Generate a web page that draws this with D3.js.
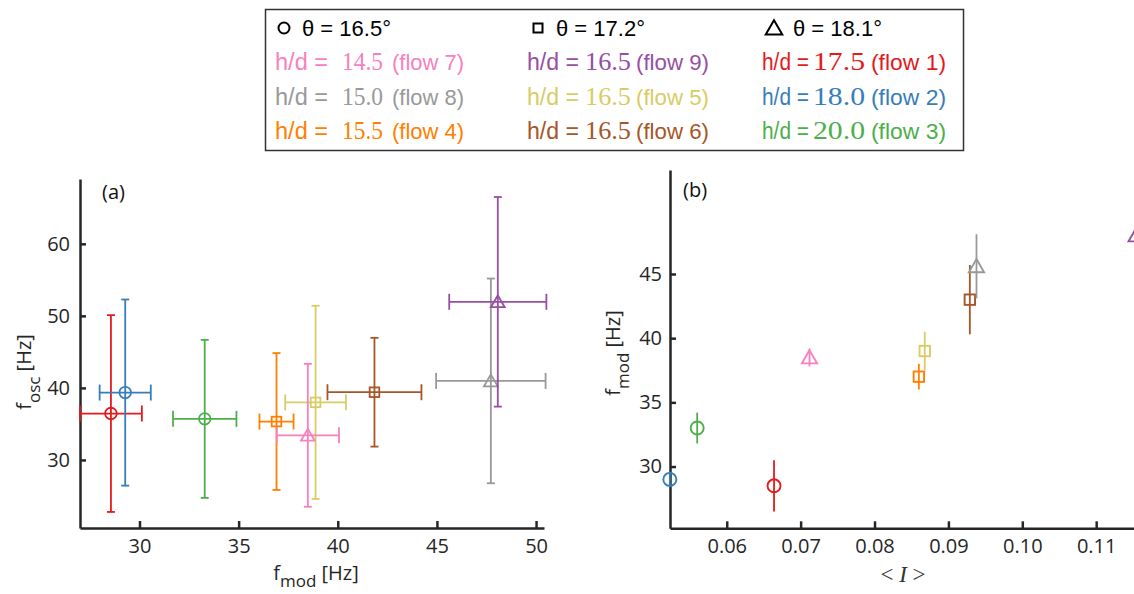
<!DOCTYPE html>
<html>
<head>
<meta charset="utf-8">
<script src="https://cdn.jsdelivr.net/npm/d3@7"></script>
<style>
  html, body { margin: 0; padding: 0; background: #fff; overflow: hidden; }
  svg { display: block; }
</style>
</head>
<body>
<svg id="fig" width="1134" height="594"></svg>
<script>
// ---- data -------------------------------------------------------------
const flowIds    = [1, 2, 3, 4, 5, 6, 7, 8, 9];
const hdRatio    = [17.5, 18.0, 20.0, 15.5, 16.5, 16.5, 14.5, 15.0, 16.5];
const thetaDeg   = [16.5, 16.5, 16.5, 17.2, 17.2, 17.2, 18.1, 18.1, 18.1];
const flowColors = ["#e41a1c", "#377eb8", "#4daf4a", "#ff7f00", "#d8cc66",
                    "#a65628", "#f781bf", "#999999", "#984ea3"];

// panel (a): f_osc against f_mod, both with error bars
const fModA    = [28.56, 29.28, 33.29, 36.91, 38.88, 41.85, 38.49, 47.72, 48.07];
const fModAErr = [1.56, 1.29, 1.60, 0.86, 1.53, 2.37, 1.57, 2.76, 2.45];
const fOsc     = [36.44, 39.35, 35.70, 35.33, 37.99, 39.40, 33.42, 40.97, 51.95];
const fOscErr  = [13.66, 12.92, 10.97, 9.50, 13.41, 7.55, 9.92, 14.21, 14.55];

// panel (b): f_mod against mean intermittency <I>
const meanI    = [0.0664, 0.0523, 0.0560, 0.0860, 0.0868, 0.0929, 0.0712, 0.0938, 0.1154];
const fModB    = [28.5, 29.0, 33.0, 37.0, 39.0, 43.0, 38.5, 45.6, 48.0];
const fModBErr = [2.0, 0.6, 1.2, 1.0, 1.5, 2.7, 0.7, 2.5, 2.0];

const thetaLevels = [16.5, 17.2, 18.1];
const legendOrder = [7, 8, 4, 9, 5, 6, 1, 2, 3];

const xTicksA = [30, 35, 40, 45, 50];
const yTicksA = [30, 40, 50, 60];
const xTicksB = [0.06, 0.07, 0.08, 0.09, 0.10, 0.11];
const yTicksB = [30, 35, 40, 45];

// ---- helpers ----------------------------------------------------------
const svg = d3.select("#fig");
const SANS = "'Open Sans', 'Noto Sans', sans-serif";
const LEG_SANS = "'Liberation Sans', Arial, sans-serif";
const SERIF = "'Liberation Serif', 'Times New Roman', serif";
const AXIS_COL = "#262626";

const shapeOf = t => ["circle", "square", "triangle"][thetaLevels.indexOf(t)];

function drawMarker(g, shape, cx, cy, s, color, sw) {
  if (shape === "circle") {
    g.append("circle").attr("cx", cx).attr("cy", cy).attr("r", s)
      .attr("fill", "none").attr("stroke", color).attr("stroke-width", sw);
  } else if (shape === "square") {
    g.append("rect").attr("x", cx - s).attr("y", cy - s)
      .attr("width", 2 * s).attr("height", 2 * s)
      .attr("fill", "none").attr("stroke", color).attr("stroke-width", sw);
  } else {
    const h = s * 1.15;
    g.append("path")
      .attr("d", `M${cx},${cy - h * 0.95}L${cx + h},${cy + h * 0.78}L${cx - h},${cy + h * 0.78}Z`)
      .attr("fill", "none").attr("stroke", color).attr("stroke-width", sw)
      .attr("stroke-linejoin", "miter");
  }
}

function styleAxis(g, fontSize) {
  g.select(".domain").attr("stroke", AXIS_COL).attr("stroke-width", 2.5);
  g.selectAll(".tick line").attr("stroke", AXIS_COL).attr("stroke-width", 2.5);
  g.selectAll(".tick text").attr("fill", AXIS_COL)
    .style("font-family", SANS).style("font-size", fontSize + "px");
}

// ---- panel (a) --------------------------------------------------------
const xA = d3.scaleLinear().domain([27.0, 50.4]).range([80, 544]);
const yA = d3.scaleLinear().domain([20.55, 69.0]).range([528, 179]);

const gA = svg.append("g");
const axA_x = gA.append("g").attr("transform", `translate(0,${yA.range()[0]})`)
  .call(d3.axisBottom(xA).tickValues(xTicksA).tickSizeInner(-7).tickSizeOuter(0).tickPadding(11));
styleAxis(axA_x, 20);
const axA_y = gA.append("g").attr("transform", `translate(${xA.range()[0]},0)`)
  .call(d3.axisLeft(yA).tickValues(yTicksA).tickSizeInner(-6).tickSizeOuter(0).tickPadding(10));
styleAxis(axA_y, 20);

const capV = 4, capH = 8;
flowIds.forEach((id, i) => {
  const c = flowColors[i];
  const g = gA.append("g");
  const px = xA(fModA[i]), py = yA(fOsc[i]);
  const x0 = xA(fModA[i] - fModAErr[i]), x1 = xA(fModA[i] + fModAErr[i]);
  const y0 = yA(fOsc[i] - fOscErr[i]), y1 = yA(fOsc[i] + fOscErr[i]);
  const line = (a, b, c2, d) => g.append("line").attr("x1", a).attr("y1", b).attr("x2", c2).attr("y2", d)
    .attr("stroke", c).attr("stroke-width", 1.8);
  line(px, y0, px, y1);
  line(px - capV, y0, px + capV, y0);
  line(px - capV, y1, px + capV, y1);
  line(x0, py, x1, py);
  line(x0, py - capH, x0, py + capH);
  line(x1, py - capH, x1, py + capH);
  const shp = shapeOf(thetaDeg[i]);
  drawMarker(g, shp, px, py, shp === "circle" ? 5.8 : (shp === "square" ? 4.8 : 6), c, 1.8);
});

gA.append("text").attr("x", 102).attr("y", 199).text("(a)")
  .style("font-family", SANS).style("font-size", "20px").attr("fill", "#111");

// axis titles (a)
const xlabA = gA.append("text").attr("x", 316).attr("y", 580).attr("text-anchor", "middle")
  .style("font-family", SANS).style("font-size", "20px").attr("fill", AXIS_COL);
xlabA.append("tspan").text("f");
xlabA.append("tspan").attr("dy", 7).style("font-size", "17px").text("mod");
xlabA.append("tspan").attr("dy", -7).text(" [Hz]");

const ylabA = gA.append("text").attr("transform", "translate(31,372) rotate(-90)")
  .attr("text-anchor", "middle")
  .style("font-family", SANS).style("font-size", "20px").attr("fill", AXIS_COL);
ylabA.append("tspan").text("f");
ylabA.append("tspan").attr("dy", 9).style("font-size", "17px").text("osc");
ylabA.append("tspan").attr("dy", -9).text(" [Hz]");

// ---- panel (b) --------------------------------------------------------
const xB = d3.scaleLinear().domain([0.05232, 0.11593]).range([670, 1140]);
const yB = d3.scaleLinear().domain([25.19, 53.1]).range([528.3, 170]);

const gB = svg.append("g");
const axB_x = gB.append("g").attr("transform", `translate(0,${yB.range()[0]})`)
  .call(d3.axisBottom(xB).tickValues(xTicksB).tickFormat(d3.format(".2f"))
    .tickSizeInner(-7).tickSizeOuter(0).tickPadding(11));
styleAxis(axB_x, 20);
const axB_y = gB.append("g").attr("transform", `translate(${xB.range()[0]},0)`)
  .call(d3.axisLeft(yB).tickValues(yTicksB).tickSizeInner(-6).tickSizeOuter(0).tickPadding(8));
styleAxis(axB_y, 20);

flowIds.forEach((id, i) => {
  const c = flowColors[i];
  const g = gB.append("g");
  const px = xB(meanI[i]), py = yB(fModB[i]);
  g.append("line").attr("x1", px).attr("x2", px)
    .attr("y1", yB(fModB[i] - fModBErr[i])).attr("y2", yB(fModB[i] + fModBErr[i]))
    .attr("stroke", c).attr("stroke-width", 1.8);
  const shp = shapeOf(thetaDeg[i]);
  drawMarker(g, shp, px, py, shp === "circle" ? 6.5 : (shp === "square" ? 5.2 : 6.6), c, 1.9);
});

gB.append("text").attr("x", 683).attr("y", 197).text("(b)")
  .style("font-family", SANS).style("font-size", "20px").attr("fill", "#111");

const xlabB = gB.append("text").attr("x", 903).attr("y", 582).attr("text-anchor", "middle")
  .style("font-family", SERIF).style("font-size", "23px").attr("fill", "#333");
xlabB.append("tspan").text("< ");
xlabB.append("tspan").style("font-style", "italic").text("I");
xlabB.append("tspan").text(" >");

const ylabB = gB.append("text").attr("transform", "translate(620,353) rotate(-90)")
  .attr("text-anchor", "middle")
  .style("font-family", SANS).style("font-size", "20px").attr("fill", AXIS_COL);
ylabB.append("tspan").text("f");
ylabB.append("tspan").attr("dy", 9).style("font-size", "17px").text("mod");
ylabB.append("tspan").attr("dy", -9).text(" [Hz]");

// ---- legend -----------------------------------------------------------
const gL = svg.append("g");
gL.append("rect").attr("x", 265.5).attr("y", 9.5).attr("width", 698).attr("height", 141)
  .attr("fill", "#fff").attr("stroke", "#333").attr("stroke-width", 1.5);

// theta row: marker shape per inclination angle
const thetaCols = [{m: 284, t: 302}, {m: 538, t: 556}, {m: 774, t: 793}];
thetaLevels.forEach((t, k) => {
  const shp = ["circle", "square", "triangle"][k];
  drawMarker(gL, shp, thetaCols[k].m, 28, shp === "circle" ? 5.5 : (shp === "square" ? 4.5 : 7.2), "#000", 2);
  gL.append("text").attr("x", thetaCols[k].t).attr("y", 36)
    .style("font-family", LEG_SANS).style("font-size", "22px").attr("fill", "#000")
    .text(`θ = ${t.toFixed(1)}°`);
});

// h/d rows, three columns sorted by h/d
const legCols = [
  {hd: 275, hdW: 53, num: 342, numW: 41, fl: 392, flW: 72},
  {hd: 527, hdW: 52, num: 585, numW: 46, fl: 636, flW: 73},
  {hd: 762, hdW: 47, num: 813, numW: 52, fl: 871, flW: 75}
];
const rowY = [70, 105, 139];
legendOrder.forEach((id, k) => {
  const i = flowIds.indexOf(id);
  const col = legCols[Math.floor(k / 3)], y = rowY[k % 3];
  const c = flowColors[i];
  gL.append("text").attr("x", col.hd).attr("y", y).attr("fill", c)
    .attr("textLength", col.hdW).attr("lengthAdjust", "spacingAndGlyphs")
    .style("font-family", LEG_SANS).style("font-size", "23px").text("h/d =");
  gL.append("text").attr("x", col.num).attr("y", y).attr("fill", c)
    .attr("textLength", col.numW).attr("lengthAdjust", "spacingAndGlyphs")
    .style("font-family", SERIF).style("font-size", "25px").text(hdRatio[i].toFixed(1));
  gL.append("text").attr("x", col.fl).attr("y", y).attr("fill", c)
    .attr("textLength", col.flW).attr("lengthAdjust", "spacingAndGlyphs")
    .style("font-family", LEG_SANS).style("font-size", "22px").text(`(flow ${id})`);
});
</script>
</body>
</html>
